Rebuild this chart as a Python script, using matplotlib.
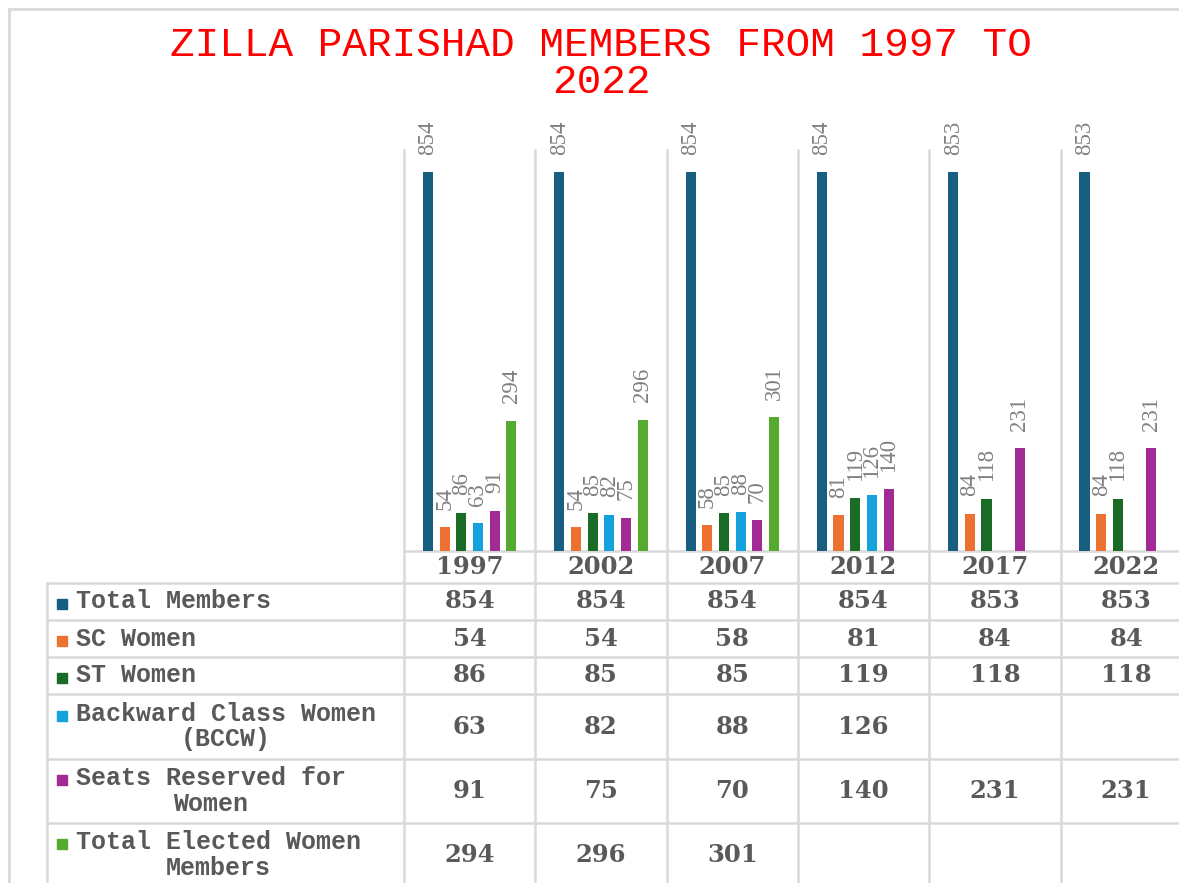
import numpy as np
import matplotlib
matplotlib.use("Agg")
import matplotlib.pyplot as plt
from matplotlib.patches import Rectangle
from matplotlib.lines import Line2D
from matplotlib.transforms import blended_transform_factory

# ---------------- data ----------------
years = ["1997", "2002", "2007", "2012", "2017", "2022"]
series_names = ["Total Members", "SC Women", "ST Women",
                "Backward Class Women\n(BCCW)", "Seats Reserved for\nWomen",
                "Total Elected Women\nMembers"]
total_members = [854, 854, 854, 854, 853, 853]
sc_women = [54, 54, 58, 81, 84, 84]
st_women = [86, 85, 85, 119, 118, 118]
bccw = [63, 82, 88, 126, None, None]
seats_reserved = [91, 75, 70, 140, 231, 231]
total_elected = [294, 296, 301, None, None, None]
series_values = [total_members, sc_women, st_women, bccw, seats_reserved, total_elected]
colors = ["#175E81", "#ED7232", "#1A6B25", "#15A1DB", "#A12A95", "#55AB2F"]

title_line1 = "ZILLA PARISHAD MEMBERS FROM 1997 TO"
title_line2 = "2022"

# ---------------- layout (pixels) ----------------
W, H = 1179, 883
fig = plt.figure(figsize=(W / 100, H / 100), dpi=100)
fig.patch.set_facecolor("white")

bg = fig.add_axes([0, 0, 1, 1])
bg.set_xlim(0, W)
bg.set_ylim(H, 0)
bg.axis("off")
bg.set_zorder(0)

col_left = 404
col_w = 131.3
plot_top = 150
plot_base = 551
ax = fig.add_axes([col_left / W, (H - plot_base) / H,
                   len(years) * col_w / W, (plot_base - plot_top) / H])
ax.set_zorder(1)
ax.patch.set_visible(False)
ax.axis("off")
ax.set_xlim(-0.5, len(years) - 0.5)
px_per_unit = (plot_base - 172) / 854.0
ax.set_ylim(0, (plot_base - plot_top) / px_per_unit)

grid = "#D9D9D9"
text_gray = "#595959"
label_gray = "#808080"

# bars + labels
n = len(series_values)
step = 0.127
bw = 0.077
x = np.arange(len(years))
for j, (vals, c) in enumerate(zip(series_values, colors)):
    for i, v in enumerate(vals):
        if v is None:
            continue
        xp = x[i] + (j - (n - 1) / 2) * step
        ax.bar(xp, v, width=bw, color=c, zorder=3)
        ax.annotate(str(v), (xp, v), xytext=(0, 12.5), textcoords="offset points",
                    rotation=90, ha="center", va="bottom", color=label_gray,
                    fontsize=16.5, family="Liberation Serif", annotation_clip=False)

blend = blended_transform_factory(ax.transData, bg.transData)

# outer frame
bg.add_line(Line2D([9, 9], [9, H], color=grid, lw=2))
bg.add_line(Line2D([9, W], [9, 9], color=grid, lw=2))

# vertical column lines
for k in range(len(years) + 1):
    bg.add_line(Line2D([k - 0.5, k - 0.5], [plot_top, H], transform=blend,
                       color=grid, lw=1.8, clip_on=False))
bg.add_line(Line2D([47, 47], [583, H], color=grid, lw=1.8))

# horizontal table lines
bg.add_line(Line2D([col_left, W], [plot_base, plot_base], color=grid, lw=1.8))
row_bounds = [583, 620, 657, 694, 759, 823, 887]
for yb in row_bounds[:-1]:
    bg.add_line(Line2D([47, W], [yb, yb], color=grid, lw=1.8))

# header years
for i, yr in enumerate(years):
    bg.text(x[i], 567, yr, transform=blend, ha="center", va="center",
            fontsize=17.5, fontweight="bold", family="DejaVu Serif", color=text_gray)

# table rows
for r, (name, vals, c) in enumerate(zip(series_names, series_values, colors)):
    yc = (row_bounds[r] + row_bounds[r + 1]) / 2
    two = "\n" in name
    first_line_y = yc - 13 if two else yc
    bg.add_patch(Rectangle((57, first_line_y - 3), 10, 10, color=c))
    bg.text(76, yc, name, ha="left", va="center", multialignment="center",
            fontsize=18, fontweight="bold", family="Liberation Mono",
            color=text_gray, linespacing=1.1)
    for i, v in enumerate(vals):
        if v is None:
            continue
        bg.text(x[i], yc, str(v), transform=blend, ha="center", va="center",
                fontsize=17.5, fontweight="bold", family="DejaVu Serif", color=text_gray)

# title
bg.text(601, 45, title_line1, ha="center", va="center", fontsize=29.5,
        family="Liberation Mono", color="#FF0000")
bg.text(601, 82, title_line2, ha="center", va="center", fontsize=29.5,
        family="Liberation Mono", color="#FF0000")

fig.savefig("out.png", dpi=100)
